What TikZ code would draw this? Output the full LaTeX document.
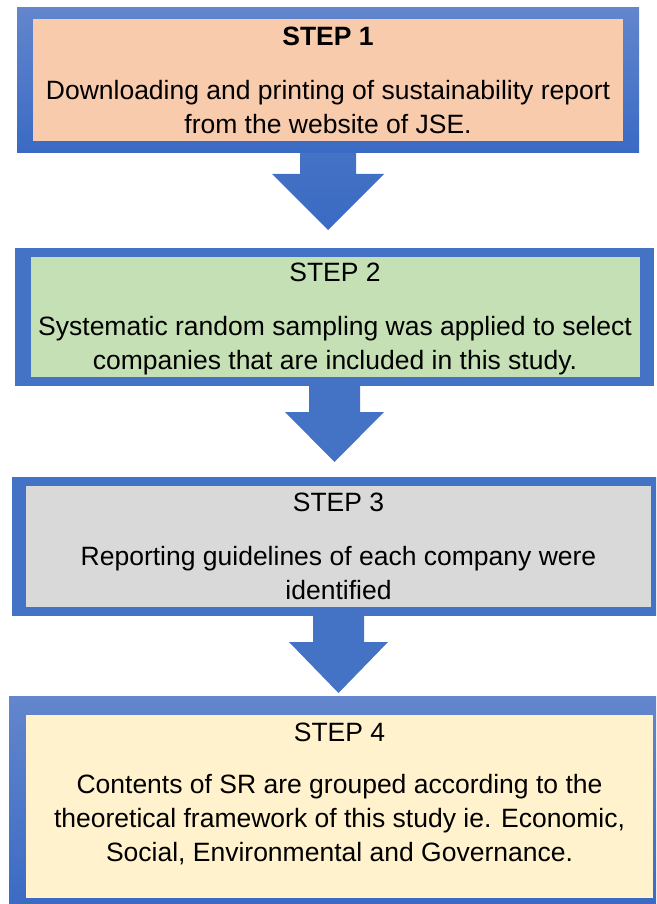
\documentclass[tikz,border=0pt]{standalone}
\usepackage{fontspec}
\setmainfont{Liberation Sans}
\usetikzlibrary{calc}
\definecolor{frameblue}{HTML}{4472C4}
\definecolor{frametop}{HTML}{6386CD}
\definecolor{framebot}{HTML}{3A6AC4}
\definecolor{peach}{HTML}{F8CBAD}
\definecolor{leaf}{HTML}{C5E0B4}
\definecolor{ash}{HTML}{D9D9D9}
\definecolor{cream}{HTML}{FFF2CC}
\newcommand\stepfont{\fontsize{26.5}{34}\selectfont}

\begin{document}
\begin{tikzpicture}[x=1pt,y=-1pt,font=\stepfont,
  frame/.style={fill=frameblue,inner sep=0pt,outer sep=0pt},
  shadeframe/.style={top color=frametop,bottom color=framebot,inner sep=0pt,outer sep=0pt},
  panel/.style={inner sep=0pt,outer sep=0pt},
  title/.style={inner sep=0pt},
  body/.style={inner sep=0pt,align=center}]
 \clip (0,0) rectangle (656,904);
 % step 1
 \node[shadeframe,minimum width=622,minimum height=145] (s1) at (328,80.5) {};
 \node[panel,fill=peach,minimum width=590,minimum height=122] (f1) at (328,80) {};
 \node[title] (t1) at (328,36) {\bfseries STEP 1};
 \node[body] (b1) at (328,107.5) {Downloading and printing of sustainability report\\from the website of JSE.};
 % step 2
 \node[frame,minimum width=639,minimum height=138] (s2) at (334.5,317) {};
 \node[panel,fill=leaf,minimum width=609,minimum height=120] (f2) at (335.5,317) {};
 \node[title] (t2) at (335,272) {STEP 2};
 \node[body] (b2) at (335,346) {Systematic random sampling was applied to select\\companies that are included in this study.};
 % step 3
 \node[frame,minimum width=653,minimum height=139] (s3) at (338.5,546.5) {};
 \node[panel,fill=ash,minimum width=625,minimum height=121] (f3) at (338.5,546.5) {};
 \node[title] (t3) at (338.5,502) {STEP 3};
 \node[body] (b3) at (338.5,573.5) {Reporting guidelines of each company were\\identified};
 % step 4
 \node[shadeframe,minimum width=661,minimum height=214] (s4) at (339.5,803) {};
 \node[panel,fill=cream,minimum width=627,minimum height=183] (f4) at (339.5,806.5) {};
 \node[title] (t4) at (339.5,732) {STEP 4};
 \node[body] (b4) at (339.5,820) {Contents of SR are grouped according to the\\theoretical framework of this study ie. Economic,\\Social, Environmental and Governance.};
 % arrows
 \begin{scope}[shift={(s1.south)}]
  \shade[top color=frameblue,bottom color=framebot] (-28,0)--(28,0)--(28,21)--(56,21)--(0,77)--(-56,21)--(-28,21)--cycle;
 \end{scope}
 \begin{scope}[shift={(s2.south)}]
  \fill[frameblue] (-25.5,0)--(25.5,0)--(25.5,26)--(49.5,26)--(0,76)--(-49.5,26)--(-25.5,26)--cycle;
 \end{scope}
 \begin{scope}[shift={(s3.south)}]
  \fill[frameblue] (-25.5,0)--(25.5,0)--(25.5,26)--(49.5,26)--(0,77)--(-49.5,26)--(-25.5,26)--cycle;
 \end{scope}
\end{tikzpicture}
\end{document}
